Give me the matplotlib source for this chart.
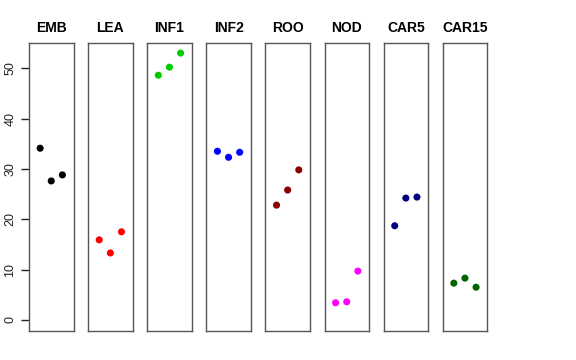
import numpy as np
import matplotlib.pyplot as plt

plt.rcParams['font.family'] = ['Liberation Sans', 'DejaVu Sans']

# данные
groups = ['EMB', 'LEA', 'INF1', 'INF2', 'ROO', 'NOD', 'CAR5', 'CAR15']
colors = ['black', 'red', '#00CD00', 'blue', '#8B0000', 'magenta', '#000080', '#006400']
values = [
    [34.1, 27.6, 28.8],
    [15.9, 13.3, 17.5],
    [48.6, 50.2, 53.0],
    [33.5, 32.3, 33.3],
    [22.8, 25.8, 29.8],
    [3.4, 3.6, 9.7],
    [18.7, 24.2, 24.4],
    [7.3, 8.3, 6.5],
]
reps = [1, 2, 3]

W, H = 576, 360
fig = plt.figure(figsize=(W / 100, H / 100), dpi=100)

left0 = 29
pw = 44.5
step = 59.1
top = 43
bottom = 331

for i, g in enumerate(groups):
    x0 = left0 + i * step
    ax = fig.add_axes([x0 / W, 1 - bottom / H, pw / W, (bottom - top) / H])
    ax.scatter(reps, values[i], color=colors[i], s=26, zorder=3, edgecolors='none')
    ax.set_xlim(0, 4)
    ax.set_ylim(-2.2, 55.0)
    ax.set_xticks([])
    for s in ax.spines.values():
        s.set_color('#555555')
        s.set_linewidth(1.0)
    ax.set_title(g, fontsize=10, fontweight='bold', pad=8)
    if i == 0:
        ax.set_yticks([0, 10, 20, 30, 40, 50])
        ax.tick_params(axis='y', length=6, width=1, labelsize=9, colors='#222222', pad=3)
        for lab in ax.get_yticklabels():
            lab.set_rotation(90)
            lab.set_va('center')
    else:
        ax.set_yticks([])

plt.savefig('out.png', dpi=100)
